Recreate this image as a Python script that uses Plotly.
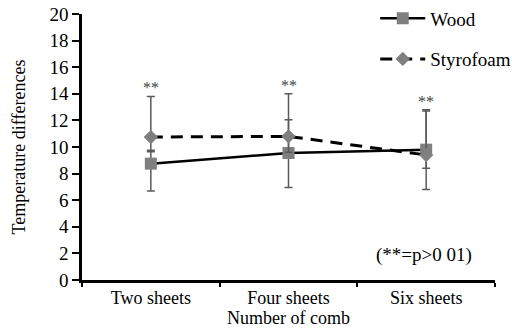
import plotly.graph_objects as go

categories = ["Two sheets", "Four sheets", "Six sheets"]
wood = [8.75, 9.55, 9.8]
wood_err_plus = [1.0, 2.5, 3.0]
wood_err_minus = [2.05, 2.6, 3.0]
styro = [10.75, 10.8, 9.4]
styro_err_plus = [3.05, 3.2, 3.3]
styro_err_minus = [1.1, 1.2, 1.0]
y_ticks = [0, 2, 4, 6, 8, 10, 12, 14, 16, 18, 20]
note = "(**=p>0 01)"

FONT = "Liberation Serif"
GRAY = "#7f7f7f"
EGRAY = "#5a5a5a"

fig = go.Figure()
fig.add_trace(go.Scatter(
    x=categories, y=wood, name="Wood", mode="lines+markers",
    line=dict(color="black", width=2.5),
    marker=dict(symbol="square", size=12, color=GRAY),
    error_y=dict(type="data", symmetric=False, array=wood_err_plus,
                 arrayminus=wood_err_minus, color=EGRAY, thickness=1.5, width=4),
    legendgroup="a",
))
fig.add_trace(go.Scatter(
    x=categories, y=styro, name="Styrofoam", mode="lines+markers",
    line=dict(color="black", width=3, dash="12px,8px"),
    marker=dict(symbol="diamond", size=11, color=GRAY),
    error_y=dict(type="data", symmetric=False, array=styro_err_plus,
                 arrayminus=styro_err_minus, color=EGRAY, thickness=1.5, width=4),
    legendgroup="b",
))

for c, w, wp, s, sp in zip(categories, wood, wood_err_plus, styro, styro_err_plus):
    top = max(w + wp, s + sp)
    fig.add_annotation(x=c, y=top, text="**", showarrow=False, yanchor="bottom",
                       yshift=-2, font=dict(family=FONT, size=16, color="#444444"))

fig.add_annotation(x=2.5, y=1.9, xref="x", yref="y", text=note, showarrow=False,
                   xanchor="right", xshift=-21, font=dict(family=FONT, size=19, color="black"))

fig.update_layout(
    width=512, height=330,
    margin=dict(l=82, r=17, t=14, b=50, autoexpand=False),
    paper_bgcolor="white", plot_bgcolor="white",
    font=dict(family=FONT, size=18, color="black"),
    showlegend=True,
    legend=dict(x=0.71, y=1.055, xanchor="left", yanchor="top",
                bgcolor="rgba(0,0,0,0)", font=dict(family=FONT, size=19),
                traceorder="grouped", tracegroupgap=13, itemwidth=45),
)
fig.update_xaxes(
    type="category", range=[-0.5, 2.5], tickson="boundaries",
    showline=True, linecolor="black", linewidth=2.5,
    ticks="outside", ticklen=4, tickwidth=2, tickcolor="black",
    showgrid=False, zeroline=False,
    title=dict(text="Number of comb", font=dict(family=FONT, size=18), standoff=4),
    tickfont=dict(family=FONT, size=18),
)
fig.update_yaxes(
    range=[0, 20], tickvals=y_ticks, ticktext=[str(v) for v in y_ticks],
    showline=True, linecolor="black", linewidth=2.5,
    ticks="outside", ticklen=7, tickwidth=2, tickcolor="black",
    showgrid=False, zeroline=False,
    title=dict(text="Temperature differences", font=dict(family=FONT, size=18), standoff=20),
    tickfont=dict(family=FONT, size=19),
)

fig.write_html("out.html", config={"displayModeBar": False},
               post_script="document.body.style.margin='0';")
